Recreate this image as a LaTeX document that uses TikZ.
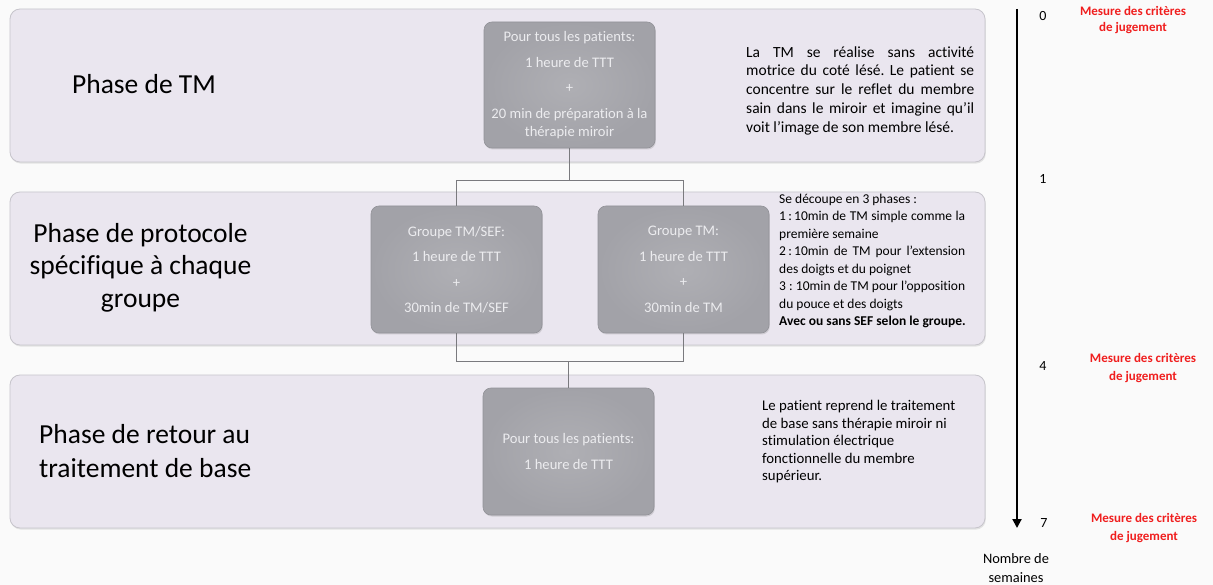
\documentclass[tikz,border=0pt]{standalone}
\usepackage{fontspec}
\setmainfont{Carlito}[Ligatures=NoCommon]
\frenchspacing
\usetikzlibrary{arrows.meta,shadows}
\definecolor{bg}{HTML}{FAFAFA}
\definecolor{bandfill}{HTML}{EAE6EF}
\definecolor{bandline}{HTML}{C6C4CB}
\definecolor{boxin}{HTML}{AFAFB4}
\definecolor{boxout}{HTML}{A2A2A8}
\definecolor{boxline}{HTML}{929298}
\definecolor{boxtext}{HTML}{ECECEF}
\definecolor{conncol}{HTML}{7A7A7E}
\definecolor{redlab}{HTML}{F01E1E}
\begin{document}
\begin{tikzpicture}[x=1pt,y=-1pt,
  band/.style={draw=bandline, line width=0.8pt, fill=bandfill, rounded corners=10pt,
    minimum width=975pt, minimum height=153pt, inner sep=0pt,
    drop shadow={opacity=0.18, shadow xshift=0.8pt, shadow yshift=-1.6pt}},
  graybox/.style={draw=boxline, line width=0.6pt, inner color=boxin, outer color=boxout,
    rounded corners=8pt, minimum width=171pt, minimum height=127pt, inner sep=0pt,
    align=center, text=boxtext, font=\fontsize{14.6}{25.5}\selectfont,
    drop shadow={opacity=0.25, shadow xshift=0.8pt, shadow yshift=-1.5pt}},
  phaselab/.style={inner sep=0pt, text=black, font=\fontsize{27.5}{32.5}\selectfont},
  desc/.style={inner sep=0pt, text=black, align=left},
  conn/.style={draw=conncol, line width=0.9pt},
  timeline/.style={draw=black, line width=2pt, -{Triangle[width=9pt,length=9pt]}},
  weeknum/.style={inner sep=0pt, font=\fontsize{14}{17}\selectfont},
  mesure/.style={inner sep=0pt, align=center, text=redlab, font=\bfseries\fontsize{13}{17.5}\selectfont}
]
\useasboundingbox[fill=bg] (0,0) rectangle (1213,585);

% bands
\node[band] (band1) at (497.5,85.5) {};
\node[band] (band2) at (497.5,268.5) {};
\node[band] (band3) at (497.5,451.5) {};

% phase labels
\node[phaselab] (lab1) at (144,84) {Phase de TM};
\node[phaselab, align=center] (lab2) at (140.5,267.5) {Phase de protocole\\spécifique à chaque\\groupe};
\node[phaselab, align=left, anchor=west, font=\fontsize{27.5}{34}\selectfont] (lab3) at (39,451) {Phase de retour au\\traitement de base};

% gray boxes
\node[graybox, minimum height=126pt] (b1) at (569.5,85)
  {Pour tous les patients:\\1 heure de TTT\\+\\20 min de préparation à la\\[-7.5pt]thérapie miroir};
\node[graybox] (g1) at (456.5,269.5) {Groupe TM/SEF:\\1 heure de TTT\\+\\30min de TM/SEF};
\node[graybox] (g2) at (683.5,269.5) {Groupe TM:\\1 heure de TTT\\+\\30min de TM};
\node[graybox] (b3) at (568.5,451.5) {Pour tous les patients:\\1 heure de TTT};

% connectors
\coordinate (j1) at (569.5,180);
\coordinate (j2) at (568.5,361);
\draw[conn] (b1.south) -- (j1);
\draw[conn] (j1) -| (g1.north);
\draw[conn] (j1) -| (g2.north);
\draw[conn] (g1.south) |- (j2);
\draw[conn] (g2.south) |- (j2);
\draw[conn] (j2) -- (b3.north);

% descriptions
\node[desc, anchor=west, font=\fontsize{15.5}{18.75}\selectfont] (d1) at (746,90.5)
  {\makebox[228pt][s]{La TM se réalise sans activité}\\
   \makebox[228pt][s]{motrice du coté lésé. Le patient se}\\
   \makebox[228pt][s]{concentre sur le reflet du membre}\\
   \makebox[228pt][s]{sain dans le miroir et imagine qu’il}\\
   voit l’image de son membre lésé.};
\node[desc, anchor=west, font=\fontsize{13.5}{17.5}\selectfont] (d2) at (779,261)
  {Se découpe en 3 phases :\\
   \makebox[186pt][s]{1\,:\,10min de TM simple comme la}\\
   première semaine\\
   \makebox[186pt][s]{2\,:\,10min de TM pour l’extension}\\
   des doigts et du poignet\\
   \makebox[186pt][s]{3 : 10min de TM pour l’opposition}\\
   du pouce et des doigts\\
   \textbf{Avec ou sans SEF selon le groupe.}};
\node[desc, anchor=west, font=\fontsize{14.8}{17.5}\selectfont] (d3) at (762,442)
  {Le patient reprend le traitement\\
   de base sans thérapie miroir ni\\
   stimulation électrique\\
   fonctionnelle du membre\\
   supérieur.};

% timeline
\coordinate (tstart) at (1017,9);
\coordinate (tend) at (1017,528);
\draw[timeline] (tstart) -- (tend);
\node[weeknum] (w0) at (1043,16) {0};
\node[weeknum] (w1) at (1043,179) {1};
\node[weeknum] (w4) at (1043,366) {4};
\node[weeknum] (w7) at (1044,523) {7};
\node[mesure, font=\bfseries\fontsize{13}{15.5}\selectfont] (m0) at (1133,20) {Mesure des critères\\de jugement};
\node[mesure] (m4) at (1143,368) {Mesure des critères\\de jugement};
\node[mesure] (m7) at (1144,528) {Mesure des critères\\de jugement};
\node[inner sep=0pt, align=center, font=\fontsize{14.4}{19}\selectfont] (axis) at (1016,568) {Nombre de\\semaines};
\end{tikzpicture}
\end{document}
